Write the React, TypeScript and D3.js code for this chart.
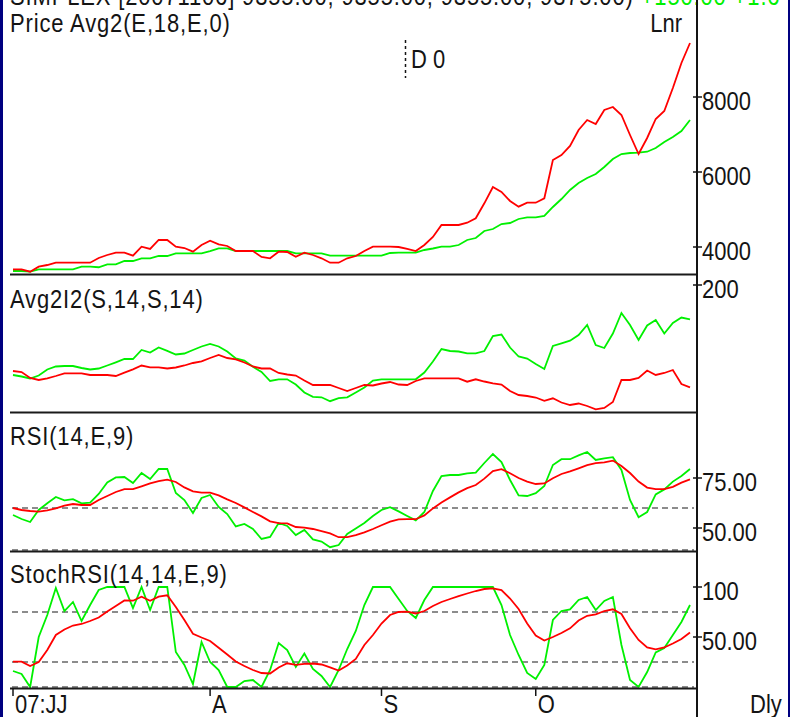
import * as d3 from "d3";

// ---- data (daily, 07:JJ .. end of Oct) ----
const monthLabels = ["07:JJ", "A", "S", "O"];
const monthIdx = [0, 23, 43, 61];

const price = [
  3405, 3405, 3341, 3475, 3520, 3581, 3581, 3581, 3581, 3581,
  3707, 3787, 3848, 3848, 3768, 4008, 3947, 4187, 4187, 4008,
  3973, 3875, 4053, 4168, 4072, 4027, 3893, 3893, 3893, 3733,
  3699, 3875, 3867, 3741, 3848, 3787, 3699, 3581, 3581, 3699,
  3760, 3893, 4008, 4008, 4008, 4000, 3947, 3893, 4053, 4267,
  4587, 4587, 4587, 4648, 4765, 5165, 5600, 5467, 5227, 5075,
  5181, 5181, 5299, 6320, 6453, 6694, 7120, 7387, 7280, 7654,
  7734, 7520, 6987, 6480, 6907, 7414, 7627, 8240, 8907, 9440,
];
const priceAvg = [
  3360, 3360, 3341, 3405, 3405, 3405, 3405, 3405, 3475, 3475,
  3460, 3539, 3539, 3627, 3627, 3699, 3699, 3760, 3760, 3832,
  3832, 3832, 3832, 3893, 3965, 3965, 3893, 3893, 3893, 3893,
  3893, 3893, 3893, 3832, 3832, 3832, 3832, 3768, 3768, 3768,
  3768, 3768, 3768, 3768, 3840, 3848, 3848, 3848, 3920, 3960,
  4008, 4008, 4053, 4187, 4240, 4427, 4480, 4613, 4640, 4747,
  4792, 4792, 4827, 5067, 5280, 5520, 5707, 5840, 5947, 6133,
  6347, 6480, 6507, 6515, 6541, 6640, 6800, 6933, 7093, 7387,
];
const avgRed = [
  114, 113, 107, 105, 106.7, 109, 111.7, 111.7, 111.7, 110,
  110, 110, 109, 112.3, 115.7, 119.5, 117.7, 117.7, 116.5, 117.5,
  119.5, 122, 123.7, 127, 130, 127, 125.7, 122.5, 118.5, 116.5,
  116.5, 112, 110.5, 109.5, 104.5, 100, 100, 100, 97, 94,
  97, 100, 99.5, 101.5, 103, 100.5, 100, 104, 106.7, 106.7,
  106.7, 106.7, 106.7, 103.3, 105.7, 103.5, 101.7, 100.5, 94, 90,
  89, 87.5, 84.2, 86.7, 82.5, 80, 81.5, 79, 75.7, 77,
  83, 105, 105, 107, 114.5, 110, 112, 115, 101, 97.7,
];
const avgGreen = [
  110, 108.5, 106.5, 109.5, 115.5, 118.5, 119, 119, 117, 115.5,
  116.5, 119.5, 122.7, 126, 126, 135, 132.5, 137.5, 134.2, 130.5,
  131.5, 135, 138.5, 141, 138.5, 133.5, 126.5, 124.5, 118.2, 113,
  104, 105.7, 105.7, 100.5, 92.5, 88.2, 87.7, 83.8, 86.8, 87.7,
  92.5, 97.5, 104.5, 105.7, 105.7, 105.7, 105.7, 105.7, 112.5, 123.5,
  136, 134, 133.5, 131.7, 131.7, 134, 149, 150.5, 137.5, 128.5,
  126.5, 121, 116, 139, 141.7, 144.3, 150, 160, 140, 137,
  151.5, 172, 160, 145, 159.5, 165, 151.5, 162, 167.5, 165.7,
];
const rsiRed = [
  60, 59, 58.5, 58.2, 58.8, 59.8, 61.2, 62, 61.5, 61.5,
  64, 66, 68, 69.4, 69.4, 70.8, 72.3, 73.4, 74.2, 73,
  70.3, 68.3, 67.7, 67.7, 66.3, 64.3, 62.5, 60.3, 58, 55.8,
  53.3, 52.4, 52.3, 50.5, 50.2, 49.5, 48.4, 47.3, 45.4, 45.4,
  46.4, 47.8, 49.5, 51.4, 53.2, 54.3, 54.4, 54.4, 56.3, 59.8,
  62.8, 65.3, 67.8, 69.9, 71.5, 74.7, 78.5, 79.4, 77.4, 75,
  73.2, 72, 72.3, 74.9, 77, 78.3, 79.8, 81.4, 82.4, 82.8,
  83.7, 81, 77.5, 73.2, 70.2, 69.4, 69.4, 70.6, 72.7, 74.3,
];
const rsiGreen = [
  56.5, 54.5, 53, 59, 62.4, 65.5, 63.8, 64.4, 62.3, 62.7,
  67, 72.8, 75.3, 75.5, 72.5, 77.5, 74.5, 79.5, 79.5, 67.5,
  64, 57.5, 65, 66.5, 60.5, 57, 50.8, 52, 49.5, 44.5,
  45.5, 52.5, 51, 46.5, 49, 44.3, 43.2, 40.4, 41.5, 47,
  49.8, 52.5, 56, 59, 60.4, 58.3, 56, 53.8, 58, 68.5,
  76, 76.5, 76.5, 77.3, 77.7, 82.5, 87, 83, 74, 66.3,
  66, 67.4, 71, 81.5, 84.4, 84.4, 86.3, 88, 84, 84.8,
  85.4, 79, 64, 55.4, 58, 66.8, 69.3, 73.2, 76, 79.5,
];
const stochRed = [
  25.3, 25.3, 21, 25, 37, 52, 57.5, 61.5, 63, 66,
  69.5, 75.5, 81, 86.5, 86.3, 90.2, 86.3, 90.3, 91.7, 80,
  67, 53.3, 49.5, 46, 39.2, 32.5, 25.5, 21, 17, 14,
  13.5, 19.5, 23.7, 22.2, 23.2, 23.5, 22.5, 19.7, 16.5, 21.5,
  28, 42, 52, 63.5, 72, 75, 75.3, 73.5, 76, 81,
  85, 88, 90.8, 93.5, 96, 98, 98.7, 97, 88.5, 78,
  63.5, 51.5, 46.5, 50, 54, 58.7, 66.5, 71.2, 72.7, 76,
  77.7, 73, 58.7, 47, 39.5, 37.7, 39.5, 43.5, 48, 54.5,
];
const stochGreen = [
  16, 13, 0, 50, 72, 99, 76, 85, 66, 82,
  97, 100, 100, 100, 79, 100, 77, 100, 100, 35,
  22, 3, 45, 25, 17, 0, 0, 6, 7, 0,
  17, 44, 37, 20, 33.5, 18, 11, 0, 17, 38,
  56, 82, 100, 100, 100, 88, 76, 69, 87, 100,
  100, 100, 100, 100, 100, 100, 100, 82, 52, 32,
  14, 8, 22, 67, 76, 77.7, 87, 90, 77, 86,
  90, 42, 7, 0, 15, 34.5, 39, 52, 65, 82,
];

const priceTicks = [4000, 6000, 8000];
const avgTicks = [200];
const rsiTicks = [50, 75];
const rsiTickLabels = ["50.00", "75.00"];
const rsiLevels = [39, 60];
const stochTicks = [50, 100];
const stochTickLabels = ["50.00", "100"];
const stochLevels = [0, 25, 75];

// ---- layout ----
const W = 790;
const H = 717;
const PLOT_L = 10;
const AXIS_X = 697;
const RED = "#ff0000";
const GREEN = "#00f000";
const INK = "#141414";
const FONT = "'Liberation Sans', Arial, sans-serif";

const x = d3.scaleLinear().domain([0, price.length - 1]).range([13, 690]);

type Panel = {
  title: string;
  top: number;
  bottom: number;
  domain: [number, number];
  ticks: number[];
  labels: string[];
  levels: number[];
  red: number[];
  green: number[];
};

const panels: Panel[] = [
  {
    title: "Price  Avg2(E,18,E,0)",
    top: 0,
    bottom: 274,
    domain: [3280, 10587],
    ticks: priceTicks,
    labels: priceTicks.map(String),
    levels: [],
    red: price,
    green: priceAvg,
  },
  {
    title: "Avg2I2(S,14,S,14)",
    top: 276,
    bottom: 412,
    domain: [73, 209],
    ticks: avgTicks,
    labels: avgTicks.map(String),
    levels: [],
    red: avgRed,
    green: avgGreen,
  },
  {
    title: "RSI(14,E,9)",
    top: 413,
    bottom: 551,
    domain: [38.5, 107.5],
    ticks: rsiTicks,
    labels: rsiTickLabels,
    levels: rsiLevels,
    red: rsiRed,
    green: rsiGreen,
  },
  {
    title: "StochRSI(14,14,E,9)",
    top: 552,
    bottom: 688,
    domain: [-1, 135],
    ticks: stochTicks,
    labels: stochTickLabels,
    levels: stochLevels,
    red: stochRed,
    green: stochGreen,
  },
];

const titleBaselines = [32, 308, 445, 583];

const Label = ({
  x: tx,
  y: ty,
  anchor = "start",
  spacing = 0,
  fill = INK,
  children,
}: {
  x: number;
  y: number;
  anchor?: "start" | "middle" | "end";
  spacing?: number;
  fill?: string;
  children: React.ReactNode;
}) => (
  <text
    transform={`translate(${tx},${ty}) scale(0.846,1)`}
    textAnchor={anchor}
    fill={fill}
    fontSize={26}
    fontFamily={FONT}
    letterSpacing={spacing}
  >
    {children}
  </text>
);

const PanelView = ({ p, i }: { p: Panel; i: number }) => {
  const y = d3.scaleLinear().domain(p.domain).range([p.bottom, p.top]);
  const line = d3
    .line<number>()
    .x((_, k) => x(k))
    .y((v) => y(v));
  return (
    <g>
      {p.levels.map((lv) => (
        <line
          key={lv}
          x1={PLOT_L + 2}
          x2={AXIS_X - 3}
          y1={y(lv)}
          y2={y(lv)}
          stroke="#8c8c8c"
          strokeWidth={2}
          strokeDasharray="6,4"
        />
      ))}
      <path d={line(p.green) ?? ""} fill="none" stroke={GREEN} strokeWidth={1.8} />
      <path d={line(p.red) ?? ""} fill="none" stroke={RED} strokeWidth={1.8} />
      <line
        x1={PLOT_L}
        x2={AXIS_X - 1}
        y1={p.bottom + 0.5}
        y2={p.bottom + 0.5}
        stroke="#1a1a1a"
        strokeWidth={2}
      />
      {p.ticks.map((t, k) => (
        <g key={t}>
          <line x1={AXIS_X - 4} x2={AXIS_X + 5} y1={y(t)} y2={y(t)} stroke={INK} strokeWidth={1.5} />
          <Label x={AXIS_X + 5} y={y(t) + 13}>
            {p.labels[k]}
          </Label>
        </g>
      ))}
      <Label x={PLOT_L} y={titleBaselines[i]} spacing={1}>
        {p.title}
      </Label>
    </g>
  );
};

export default function App() {
  const bottom = panels[panels.length - 1].bottom;
  return (
    <svg
      width={W}
      height={H}
      style={{ position: "absolute", left: 0, top: 0, background: "#fff" }}
    >
      <rect x={0} y={0} width={W} height={H} fill="#fff" />
      {/* header, clipped by the top edge */}
      <Label x={PLOT_L} y={5} spacing={1}>
        SIMPLEX [20071106] 9355.00, 9355.00, 9355.00, 9375.00)
        <tspan fill={GREEN}> +150.00 +1.6</tspan>
      </Label>
      {panels.map((p, i) => (
        <PanelView key={p.title} p={p} i={i} />
      ))}
      <Label x={682} y={32} anchor="end">
        Lnr
      </Label>
      <line
        x1={405.5}
        x2={405.5}
        y1={40}
        y2={78}
        stroke={INK}
        strokeWidth={1.5}
        strokeDasharray="3,3"
      />
      <Label x={411} y={68}>
        D 0
      </Label>
      {/* x axis */}
      {monthIdx.map((m, k) => (
        <g key={m}>
          <line x1={x(m)} x2={x(m)} y1={bottom} y2={bottom + 8} stroke={INK} strokeWidth={1.5} />
          <Label x={x(m) + 2} y={713}>
            {monthLabels[k]}
          </Label>
        </g>
      ))}
      <Label x={750} y={713}>
        Dly
      </Label>
      <line x1={AXIS_X} x2={AXIS_X} y1={0} y2={H} stroke={INK} strokeWidth={2} />
      <rect x={0} y={0} width={3} height={H} fill="#000080" />
      <rect x={W - 2} y={0} width={2} height={H} fill="#000080" />
    </svg>
  );
}
